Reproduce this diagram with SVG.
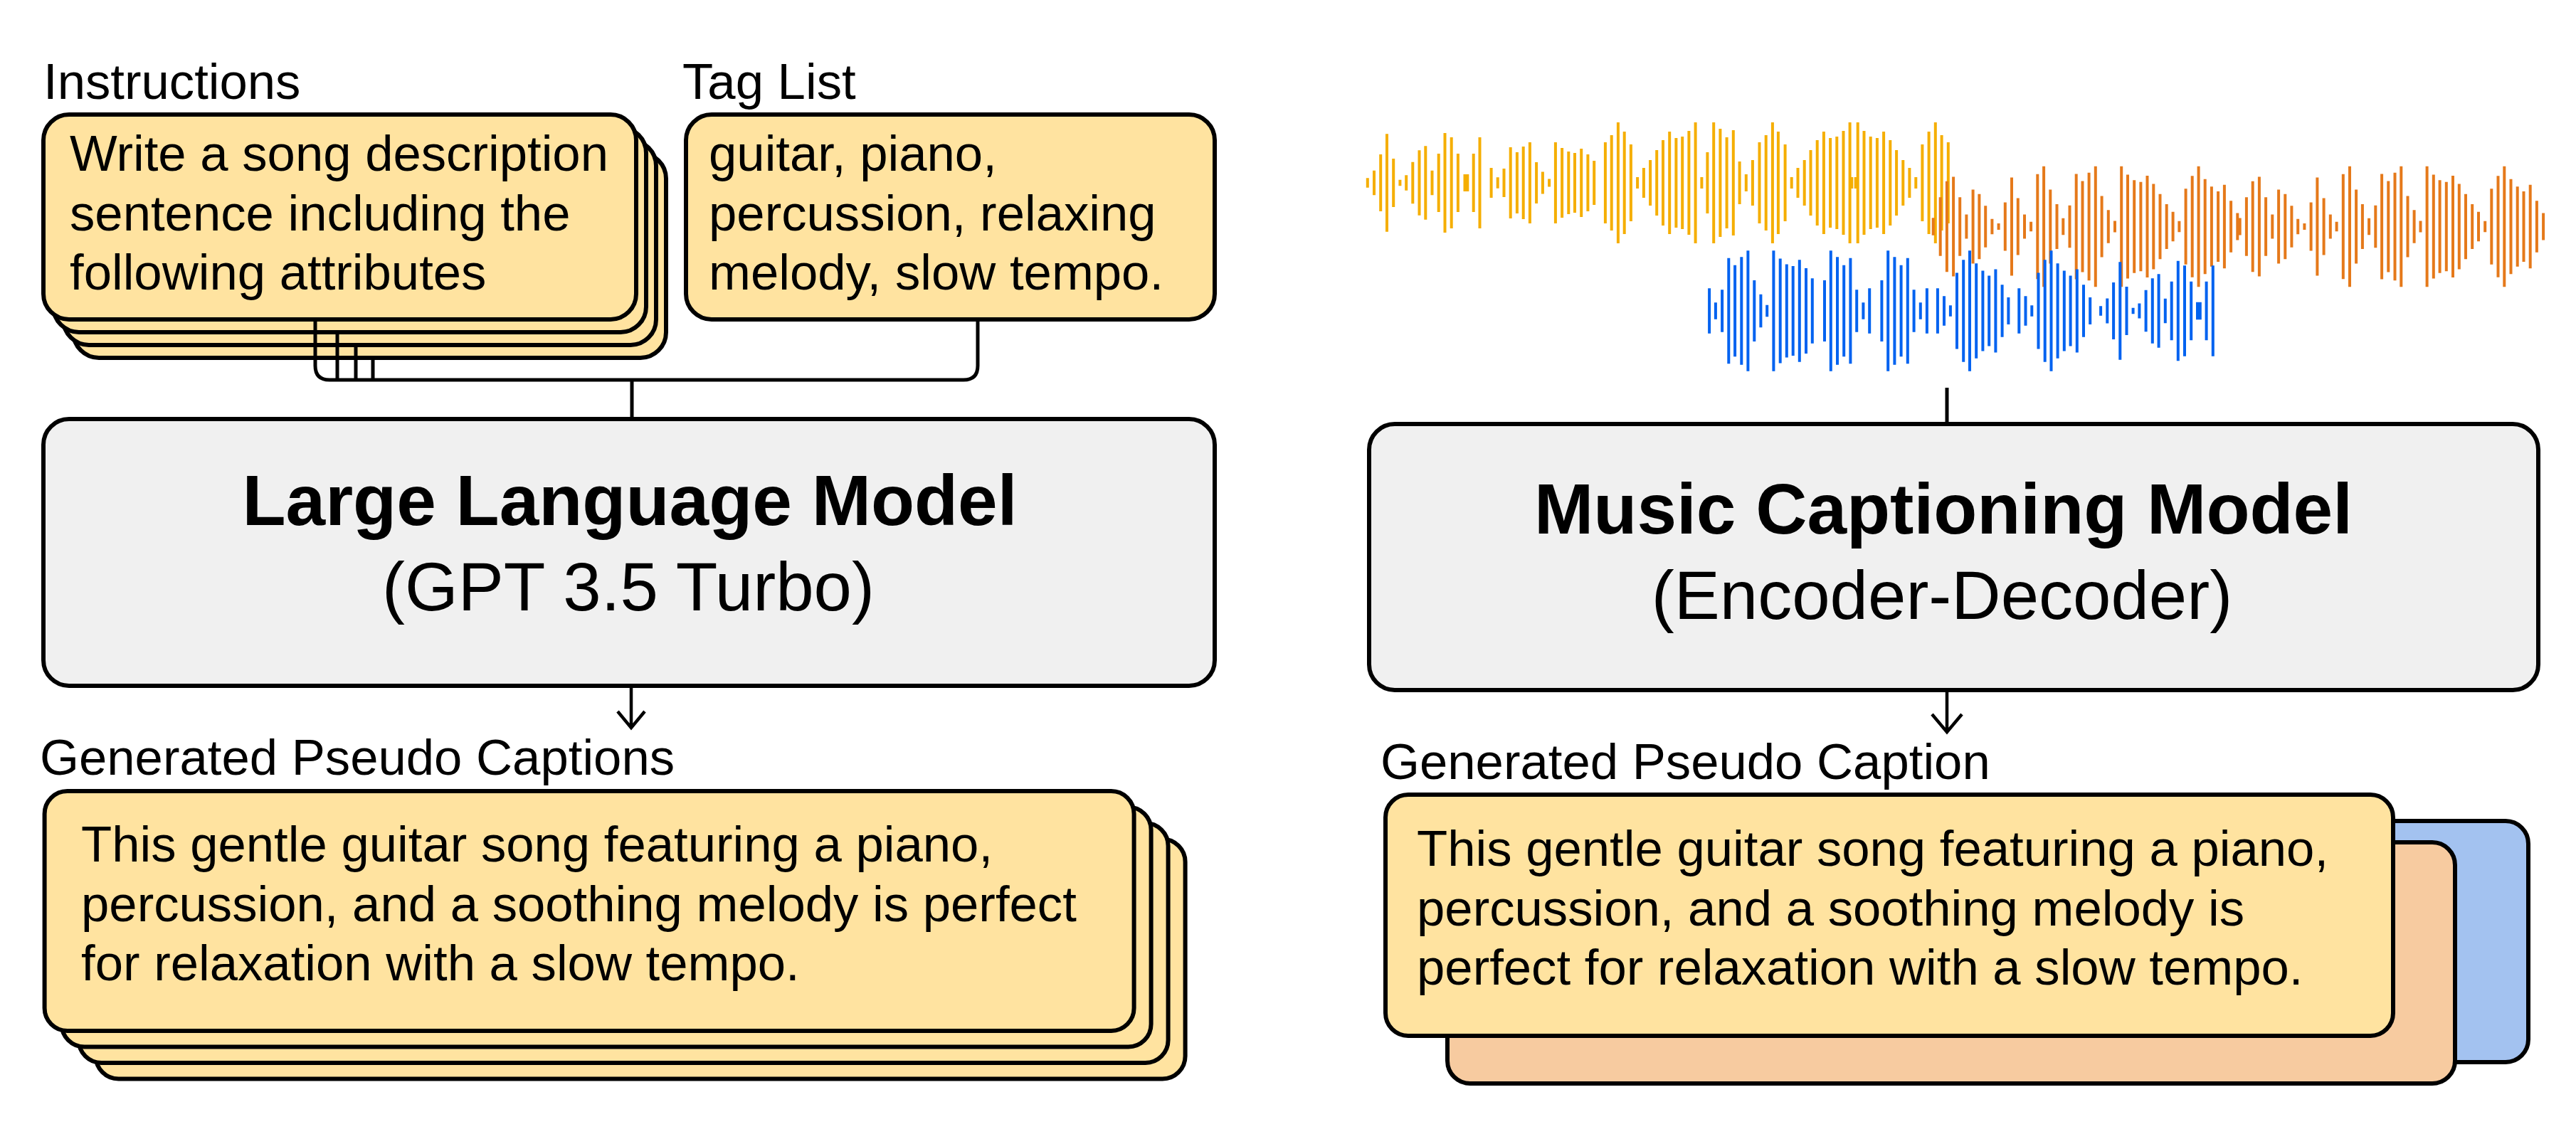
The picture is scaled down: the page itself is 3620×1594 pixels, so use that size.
<svg xmlns="http://www.w3.org/2000/svg" width="3620" height="1594" viewBox="0 0 3620 1594">
<style>
.box{stroke:#000;stroke-width:6}
.yl{fill:#FFE3A0}
.gr{fill:#F0F0F0}
.bl{fill:#A3C2F0}
.or{fill:#F7CBA0}
text{font-family:"Liberation Sans",Arial,Helvetica,sans-serif;fill:#000}
.t{font-size:70.7px}
.b{font-size:100px;font-weight:bold;text-anchor:middle}
.s{font-size:96px;text-anchor:middle}
.c{fill:none;stroke:#000;stroke-width:5}
.a{fill:none;stroke:#000;stroke-width:4.5;stroke-linejoin:miter}
.w{fill:none;stroke-width:4}
</style>
<rect width="3620" height="1594" fill="#fff"/>

<g id="waveform">
<path class="w" stroke="#F5AE00" d="M1921.8,250.3V263.7M1931,239.7V274.3M1940.2,217V297M1949,188.3V325.7M1958.2,223V291M1967.4,252.8V261.2M1976.2,246.3V267.7M1985.3,227.7V286.3M1994.5,211.2V302.8M2003.3,205.2V308.8M2012.5,239.7V274.3M2021.7,216V298M2030.5,187V327M2039.7,193V321M2048.9,216V298M2058.5,245V269M2062.3,245V269M2070.7,216V298M2079.5,193V321M2095.6,236V278M2104.7,249.2V264.8M2113.5,237V277M2122.7,207V307M2131.9,214V300M2140.7,206V308M2149.9,200V314M2159.1,228V286M2167.9,241.5V272.5M2177.1,251.5V262.5M2185.9,200V314M2195.1,208V306M2204.3,213V301M2213,215V299M2222.2,209V305M2231.4,217V297M2240.2,226V288M2255.9,200V314M2264.7,190V324M2273.9,172V342M2282.7,185V329M2291.9,203V311M2301.1,249V265M2309.9,236V278M2319.1,225V289M2328.2,211V303M2337,197V317M2346.2,185V329M2355.4,194V320M2364.2,192V322M2373.4,184V330M2382.6,172V342M2391.4,249V265M2399.4,214V300M2408.2,172V342M2417.4,181V333M2426.6,193V321M2435.8,183V331M2444.6,227V287M2453.8,245V269M2462.9,225V289M2472.5,200V314M2481.7,190V324M2490.9,172V342M2498.9,185V329M2508.6,203V311M2517.7,249V265M2526.5,236V278M2535.7,225V289M2544.5,211V303M2553.7,197V317M2562.9,185V329M2572.1,194V320M2581.3,192V322M2590.5,184V330M2599.6,172V342M2602.3,249V265M2607.7,249V265M2610.7,172V342M2619.5,184V330M2628.7,192V322M2637.9,194V320M2647.1,185V329M2656.3,197V317M2665.1,211V303M2674.3,225V289M2683.4,236V278M2692.3,249V265M2701.4,203V311M2710.6,185V329M2719.8,172V342M2728.6,190V324M2737.8,200V314"/>
<path class="w" stroke="#E5791A" d="M2716.7,306.2V330.8M2726.7,277.2V359.8M2735.9,254.8V382.2M2745.1,248.5V388.5M2754.2,277.2V359.8M2763.4,301.5V335.5M2772.6,266.5V370.5M2781.4,272.8V364.2M2790.2,289.2V347.8M2799.4,307.8V329.2M2808.6,314V323M2817.8,284.5V352.5M2827,249.5V387.5M2835.8,278.5V358.5M2845,301.5V335.5M2854.1,311.8V325.2M2863.3,244.8V392.2M2872.1,233.8V403.2M2881.3,266.5V370.5M2890.5,287V350M2899.3,306.7V330.3M2908.5,288.8V348.2M2917.7,244.5V392.5M2926.5,254.5V382.5M2935.6,242.8V394.2M2944.8,233.8V403.2M2953.6,275.5V361.5M2962.8,295.2V341.8M2972,310.5V326.5M2981.2,233.8V403.2M2990,245.5V391.5M2999.2,253.2V383.8M3008.4,255.8V381.2M3017.5,247V390M3026.3,258.5V378.5M3035.5,272.8V364.2M3044.7,287V350M3053.6,297.7V339.3M3062.4,310.8V326.2M3071.6,265.2V371.8M3080.7,247.2V389.8M3089.6,233.8V403.2M3098.7,251.7V385.3M3107.9,262.2V374.8M3117.1,269V368M3125.9,259.8V377.2M3135.1,282.2V354.8M3144.3,299.5V337.5M3147.7,306.5V330.5M3156.9,277.2V359.8M3165.7,254.8V382.2M3174.9,248.5V388.5M3184.1,277.2V359.8M3193.3,301.5V335.5M3202.1,266.5V370.5M3211.3,272.8V364.2M3220.4,289.2V347.8M3229.2,307.8V329.2M3238.4,314V323M3247.6,284.5V352.5M3256.4,249.5V387.5M3265.6,278.5V358.5M3274.8,301.5V335.5M3283.6,311.8V325.2M3292.8,244.8V392.2M3302,233.8V403.2M3311.1,266.5V370.5M3319.9,287V350M3329.1,306.7V330.3M3338.3,288.8V348.2M3347.1,244.5V392.5M3356.3,254.5V382.5M3365.5,242.8V394.2M3374.3,233.8V403.2M3383.5,275.5V361.5M3392.6,295.2V341.8M3401.5,310.5V326.5M3410.6,233.8V403.2M3419.8,245.5V391.5M3428.6,253.2V383.8M3437.8,255.8V381.2M3447,247V390M3455.8,258.5V378.5M3465,272.8V364.2M3474.2,287V350M3483,297.7V339.3M3492.2,310.8V326.2M3501.3,265.2V371.8M3510.5,247.2V389.8M3519.3,233.8V403.2M3528.5,251.7V385.3M3537.7,262.2V374.8M3546.5,269V368M3555.7,259.8V377.2M3564.9,282.2V354.8M3574.1,299.5V337.5"/>
<path class="w" stroke="#0062F0" d="M2402.1,405.3V468.7M2410.9,425.3V448.7M2420.1,407.3V466.7M2429.3,362.7V511.3M2438.1,372.8V501.2M2447.3,361.3V512.7M2456.4,352.3V521.7M2465.3,394V480M2474.4,413.7V460.3M2483.2,428.8V445.2M2492.4,352.3V521.7M2501.7,363.5V510.5M2510.8,371.5V502.5M2519.7,374V500M2528.8,365.3V508.7M2538,377V497M2546.8,391.2V482.8M2564,394V480M2572.8,352.3V521.7M2582,361.3V512.7M2591.2,372.8V501.2M2600.4,362.7V511.3M2609.2,407.3V466.7M2618.4,425.3V448.7M2627.2,405.3V468.7M2644.4,394V480M2653.2,352.3V521.7M2662.4,361.3V512.7M2671.6,372.8V501.2M2680.8,362.7V511.3M2689.6,407.3V466.7M2698.8,425.3V448.7M2707.9,405.3V468.7M2722.9,405.3V468.7M2732,416.2V457.8M2740.9,429.2V444.8M2750,383.5V490.5M2759.2,365.3V508.7M2768,352.3V521.7M2777.2,370.2V503.8M2786.4,380.5V493.5M2795.2,387.5V486.5M2804.4,378.5V495.5M2813.6,400.3V473.7M2822.4,418V456M2837.3,405.3V468.7M2846.5,416.2V457.8M2855.3,429.2V444.8M2864.5,383.5V490.5M2873.7,365.3V508.7M2882.5,352.3V521.7M2891.6,370.2V503.8M2900.8,380.5V493.5M2909.6,387.5V486.5M2918.8,378.5V495.5M2928,400.3V473.7M2937.2,418V456M2952.1,430.3V443.7M2961.3,419.5V454.5M2970.1,397V477M2979.3,368.3V505.7M2988.5,403V471M2997.6,432.7V441.3M3006.4,426.5V447.5M3015.6,407.8V466.2M3024.8,391.2V482.8M3033.6,385.3V488.7M3042.8,419.7V454.3M3051.7,395.8V478.2M3060.8,366.8V507.2M3070,373.3V500.7M3079.2,395.8V478.2M3088,424.8V449.2M3091.8,424.8V449.2M3100.6,395.8V478.2M3109.8,373.3V500.7"/>
</g>

<g id="instructions">
<text class="t" x="61" y="139">Instructions</text>
<rect class="box yl" x="103" y="215" width="833" height="288" rx="36"/>
<rect class="box yl" x="89" y="197" width="833" height="288" rx="36"/>
<rect class="box yl" x="75" y="179" width="833" height="288" rx="36"/>
<rect class="box yl" x="61" y="161" width="833" height="288" rx="36"/>
<text class="t" x="98" y="240">Write a song description</text>
<text class="t" x="98" y="323.5">sentence including the</text>
<text class="t" x="98" y="407">following attributes</text>
</g>

<g id="taglist">
<text class="t" x="959" y="139">Tag List</text>
<rect class="box yl" x="964" y="161" width="743" height="288" rx="36"/>
<text class="t" x="996" y="240">guitar, piano,</text>
<text class="t" x="996" y="323.5">percussion, relaxing</text>
<text class="t" x="996" y="407">melody, slow tempo.</text>
</g>

<g id="llm">
<rect class="box gr" x="61" y="589" width="1646" height="375" rx="36"/>
<text class="b" x="885" y="738">Large Language Model</text>
<text class="s" x="883" y="858">(GPT 3.5 Turbo)</text>
</g>

<g id="mcm">
<rect class="box gr" x="1924" y="596" width="1643" height="374" rx="36"/>
<text class="b" x="2731" y="750">Music Captioning Model</text>
<text class="s" x="2729" y="870">(Encoder-Decoder)</text>
</g>

<g id="captions-left">
<text class="t" x="56" y="1089">Generated Pseudo Captions</text>
<rect class="box yl" x="134.6" y="1179.5" width="1531" height="337" rx="32"/>
<rect class="box yl" x="110.6" y="1157" width="1531" height="337" rx="32"/>
<rect class="box yl" x="86.6" y="1134.5" width="1531" height="337" rx="32"/>
<rect class="box yl" x="62.6" y="1112" width="1531" height="337" rx="32"/>
<text class="t" x="114" y="1211">This gentle guitar song featuring a piano,</text>
<text class="t" x="114" y="1294.5">percussion, and a soothing melody is perfect</text>
<text class="t" x="114" y="1378">for relaxation with a slow tempo.</text>
</g>

<g id="caption-right">
<text class="t" x="1940" y="1095">Generated Pseudo Caption</text>
<rect class="box bl" x="2137" y="1154" width="1416" height="339" rx="32"/>
<rect class="box or" x="2034" y="1184" width="1416" height="339" rx="32"/>
<rect class="box yl" x="1947" y="1117" width="1416" height="339" rx="32"/>
<text class="t" x="1991" y="1217">This gentle guitar song featuring a piano,</text>
<text class="t" x="1991" y="1300.5">percussion, and a soothing melody is</text>
<text class="t" x="1991" y="1384">perfect for relaxation with a slow tempo.</text>
</g>

<g id="connectors">
<path class="c" d="M443,449V514Q443,534 463,534H1354Q1374,534 1374,514V449"/>
<path class="c" d="M474,467V534M500,485V534M524,503V534"/>
<path class="c" d="M888,534V589"/>
<path class="c" d="M2736,545V596"/>
<path class="a" d="M887,964V1022M868,1000L887,1023L906,1000"/>
<path class="a" d="M2736,970V1028M2715,1004L2736,1029L2757,1004"/>
</g>
</svg>
